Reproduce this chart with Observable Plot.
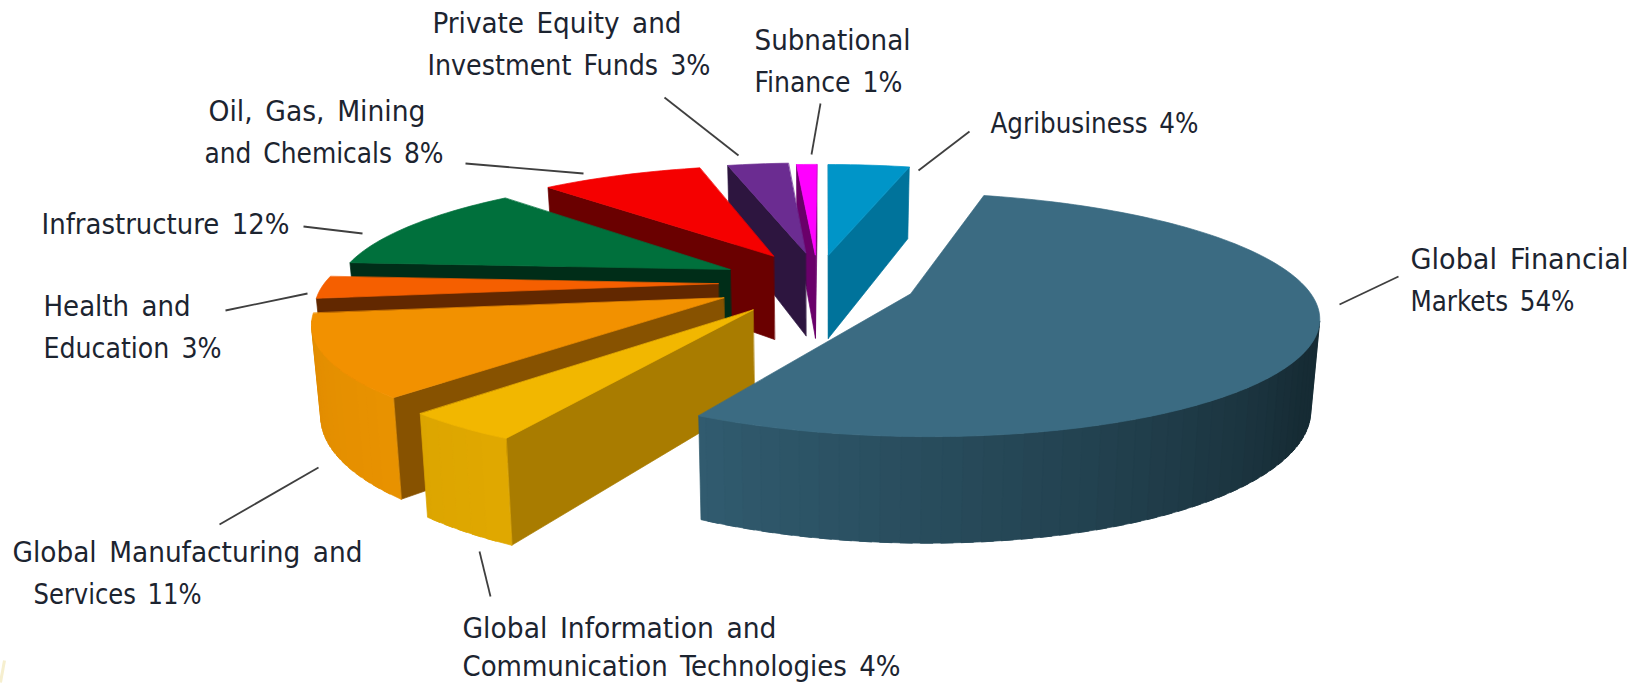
<!DOCTYPE html>
<html>
<head>
<meta charset="utf-8">
<style>html,body{margin:0;padding:0;background:#fff;overflow:hidden}</style>
<script src="https://cdn.jsdelivr.net/npm/d3@7"></script>
<script src="https://cdn.jsdelivr.net/npm/@observablehq/plot@0.6"></script>
</head>
<body>
<div id="chart"></div>
<script>
// Data, clockwise from the top of the pie
const categories = ["Agribusiness","Global Financial Markets","Global Information and Communication Technologies","Global Manufacturing and Services","Health and Education","Infrastructure","Oil, Gas, Mining and Chemicals","Private Equity and Investment Funds","Subnational Finance"];
const values = [4,54,4,11,3,12,8,3,1];
const topColors  = ["#0095c8","#3b6b82","#f2b700","#f29100","#f55f00","#00703c","#f50000","#6b2c91","#ff00ff"];
const faceColors = ["#00739b","#2b5165","#a97c00","#875200","#622800","#002d18","#6a0000","#2d153f","#6a006a"];
const rimStart   = ["#00739b","#162b34","#e0a800","#e89200","#622800","#002d18","#6a0000","#2d153f","#6a006a"];
const rimEnd     = ["#00739b","#315c70","#dca500","#e08b00","#622800","#002d18","#6a0000","#2d153f","#6a006a"];
const rimPivot   = [0,0.52,0,0,0,0,0,0,0];
const explodes   = [97,98,108,109,105,105,105,105,97];
const nudges     = [-4,0,-3,0,0,0,0,0,-3];
const drawOrder  = [0,8,7,6,5,4,3,2,1];

// Callout text lines: text, left, middle, width
const labelLines = [
  ["Private Equity and",432,24,249],["Investment Funds 3%",427,66,283],
  ["Subnational",754,41,156],["Finance 1%",754,83,148],
  ["Agribusiness 4%",990,124,208],
  ["Oil, Gas, Mining",208,112,217],["and Chemicals 8%",204,154,239],
  ["Infrastructure 12%",41,225,248],
  ["Health and",43,307,147],["Education 3%",43,349,178],
  ["Global Financial",1410,260,218],["Markets 54%",1410,302,164],
  ["Global Manufacturing and",12,553,350],["Services 11%",33,595,168],
  ["Global Information and",462,629,314],["Communication Technologies 4%",462,667,438]
];
const leaders = [
  [664,97,738,155],[820,103,811,154],[969,131,918,170],
  [465,163,583,173],[303,226,362,233],[225,310,307,293],
  [1398,276,1339,304],[219,524,318,467],[479,551,490,596]
];
const cornerMark = [[4,660,0,682]];

// Perspective pie model
const eyeX = 826, horizon = -390, planeY = 300, depth = 2185;
const radiusX = 404, radiusZ = 382, pieX = -6, pieZ = -58;
const thick = 0.129, baseShrink = 0.982, rimSteps = 28;

function project(X, Z, bottom) {
  const s = 1 / (1 - Z / depth);
  let sx = eyeX + X * s, sy = horizon + (planeY - horizon) * s;
  if (bottom) { sy += thick * (sy - horizon); sx = eyeX + (sx - eyeX) * baseShrink; }
  return [sx, sy];
}

const polys = [];
let pid = 0;
function addPoly(ground, color) {
  const id = pid++;
  for (const [X, Z, b] of ground) {
    const [x, y] = project(X, Z, b);
    polys.push({id, x, y, color});
  }
}

const total = d3.sum(values);
let cum = 0;
const slices = values.map((v, i) => {
  const a = 2 * Math.PI * cum / total; cum += v;
  const b = 2 * Math.PI * cum / total;
  return {i, a, b};
});

for (const k of drawOrder) {
  const {i, a, b} = slices[k];
  const mid = (a + b) / 2;
  const ax = pieX + nudges[i] + explodes[i] * Math.sin(mid), az = pieZ - explodes[i] * Math.cos(mid);
  const rim = t => [ax + radiusX * Math.sin(t), az - radiusZ * Math.cos(t)];
  const pa = rim(a), pb = rim(b);
  const toEyeX = -ax, toEyeZ = depth - az;
  // radial cut faces, when they face the eye
  if (-Math.cos(a) * toEyeX - Math.sin(a) * toEyeZ > 0)
    addPoly([[ax,az,0],[pa[0],pa[1],0],[pa[0],pa[1],1],[ax,az,1]], faceColors[i]);
  if (Math.cos(b) * toEyeX + Math.sin(b) * toEyeZ > 0)
    addPoly([[ax,az,0],[pb[0],pb[1],0],[pb[0],pb[1],1],[ax,az,1]], faceColors[i]);
  // outer rim in shaded strips, each laid over the start of the last
  const shade = d3.interpolateRgb(rimStart[i], rimEnd[i]);
  const n = Math.max(2, Math.round(rimSteps * (b - a) / 1.2));
  const pivot = rimPivot[i];
  for (let j = n - 1; j >= 0; j--) {
    const t0 = a + (b - a) * j / n, t1 = a + (b - a) * Math.min(n, j + 1.6) / n, tm = a + (b - a) * (j + .5) / n;
    const p0 = rim(t0), p1 = rim(t1), pm = rim(tm);
    const vis = Math.sin(tm) * (-pm[0]) + (-Math.cos(tm)) * (depth - pm[1]);
    const u = Math.max(0, ((j + .5) / n - pivot) / (1 - pivot));
    if (vis > 0) addPoly([[p0[0],p0[1],0],[p1[0],p1[1],0],[p1[0],p1[1],1],[p0[0],p0[1],1]], shade(u));
  }
  // top surface
  const top = [[ax,az,0]];
  const m = Math.max(3, Math.ceil((b - a) * 40));
  for (let j = 0; j <= m; j++) { const p = rim(a + (b - a) * j / m); top.push([p[0],p[1],0]); }
  addPoly(top, topColors[i]);
}

const chart = Plot.plot({
  width: 1646, height: 685,
  marginTop: 0, marginRight: 0, marginBottom: 0, marginLeft: 0,
  x: {domain: [0, 1646], range: [0, 1646], axis: null},
  y: {domain: [0, 685], range: [0, 685], axis: null},
  color: {type: "identity"},
  style: {background: "#fff", wordSpacing: "4px"},
  marks: [
    Plot.link(cornerMark, {x1: d => d[0], y1: d => d[1], x2: d => d[2], y2: d => d[3], stroke: "#f6efcf", strokeWidth: 3}),
    Plot.line(polys, {x: "x", y: "y", z: "id", fill: "color", stroke: "color", strokeWidth: 0.7, curve: "linear-closed"}),
    Plot.link(leaders, {x1: d => d[0], y1: d => d[1], x2: d => d[2], y2: d => d[3], stroke: "#3f3f3f", strokeWidth: 1.8}),
    Plot.text(labelLines, {x: d => d[1], y: d => d[2], text: d => d[0], textAnchor: "start", lineAnchor: "middle", fontSize: 28, fontFamily: "DejaVu Sans Condensed, DejaVu Sans", fill: "#1c2430"})
  ]
});
document.getElementById("chart").append(chart);
// Fit each text line to the width it has in the reference
d3.select(chart).selectAll("text").each(function() {
  const line = labelLines.find(l => l[0] === this.textContent);
  if (line) { this.setAttribute("textLength", line[3]); this.setAttribute("lengthAdjust", "spacingAndGlyphs"); }
});
</script>
</body>
</html>
